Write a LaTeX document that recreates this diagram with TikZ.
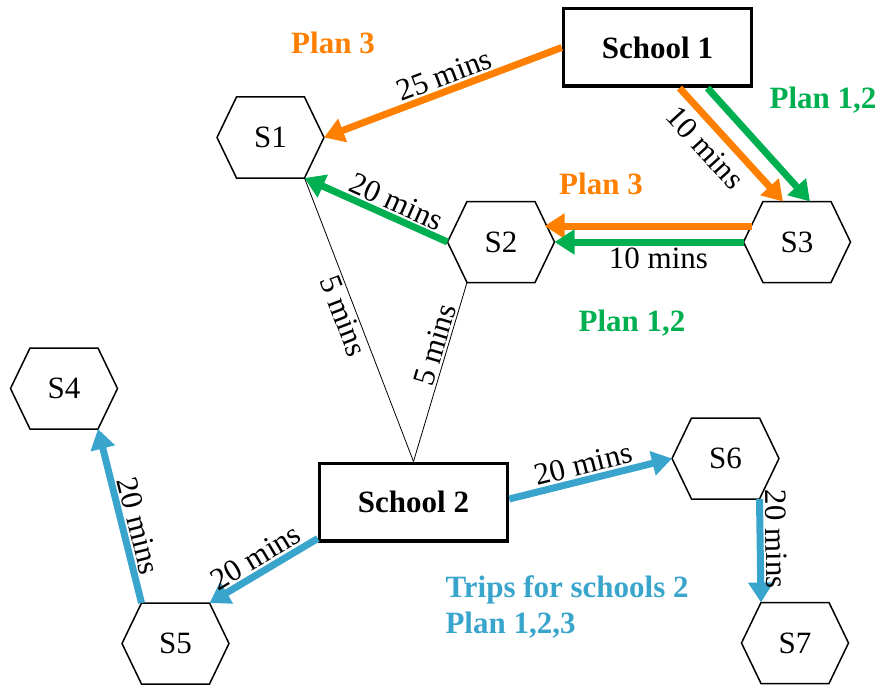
\documentclass[tikz,border=0pt]{standalone}
\usepackage{fontspec}
\setmainfont{Liberation Serif}
\usetikzlibrary{calc,arrows.meta}
\definecolor{planorange}{RGB}{255,128,0}
\definecolor{plangreen}{RGB}{0,176,80}
\definecolor{tripblue}{RGB}{57,165,204}
\def\bigfont{\fontsize{31}{36}\selectfont}
\tikzset{
	school/.style={draw, line width=3.5pt, minimum width=188pt, minimum height=77.5pt, font=\bigfont\bfseries},
	hexbox/.style={minimum width=107pt, minimum height=81pt, inner sep=0pt, outer sep=0pt},
	hexline/.style={line width=1.5pt},
	trip/.style={line width=7pt, -{Triangle[length=20pt,width=24pt]}},
	mins/.style={sloped, text=black, inner sep=2pt},
	plantext/.style={font=\bigfont\bfseries},
}
\newcommand\hexnode[3]{%
	\node[hexbox] (#1) at (#2) {#3};
	\coordinate (#1 nw) at ($(#1.north)+(-34,0)$);
	\coordinate (#1 ne) at ($(#1.north)+(34,0)$);
	\coordinate (#1 sw) at ($(#1.south)+(-34,0)$);
	\coordinate (#1 se) at ($(#1.south)+(34,0)$);
	\draw[hexline] (#1.west) -- (#1 nw) -- (#1 ne) -- (#1.east) -- (#1 se) -- (#1 sw) -- cycle;
}

\begin{document}
\begin{tikzpicture}[x=1pt, y=-1pt, font=\bigfont]
		%%%%% START %%%%%
		\useasboundingbox (0,0) rectangle (879,685);
		
		\node[school] (sch1) at (657.5,47.5) {School 1};
		\node[school] (sch2) at (413.5,502) {School 2};
		
		\hexnode{s1}{270.5,137.5}{S1}
		\hexnode{s2}{501,242}{S2}
		\hexnode{s3}{797,242}{S3}
		\hexnode{s4}{64,388.5}{S4}
		\hexnode{s5}{175.5,643.5}{S5}
		\hexnode{s6}{725.5,458.5}{S6}
		\hexnode{s7}{795,643}{S7}
		
		% plans 1,2 and 3 from school 1
		\draw[trip, planorange] (sch1.west) -- node[mins, above, pos=0.47] {25 mins} (s1.east);
		\draw[trip, planorange] ([xshift=22pt]sch1.south) -- node[mins, below=5pt, pos=0.4] {10 mins} ([xshift=-14pt]s3.north);
		\draw[trip, plangreen] ([xshift=50pt]sch1.south) -- ([xshift=13pt]s3.north);
		\draw[trip, planorange] ([xshift=8pt,yshift=16pt]s3.west) -- ([xshift=-10pt,yshift=16pt]s2.east);
		\draw[trip, plangreen] (s3.west) -- node[mins, below, pos=0.45] {10 mins} (s2.east);
		\draw[trip, plangreen] (s2.west) -- node[mins, above, pos=0.4] {20 mins} (s1 se);
		
		\draw[line width=0.8pt] (s1 se) -- node[mins, below, pos=0.47] {5 mins} (sch2.north);
		\draw[line width=0.8pt] (sch2.north) -- node[mins, above, pos=0.63] {5 mins} (s2 sw);
		
		% trips from school 2
		\draw[trip, tripblue] ([yshift=4pt]sch2.south west) -- node[mins, above] {20 mins} (s5 ne);
		\draw[trip, tripblue] (s5 nw) -- node[mins, above, pos=0.42] {20 mins} (s4 se);
		\draw[trip, tripblue] ([yshift=3pt]sch2.east) -- node[mins, above, pos=0.48] {20 mins} (s6.west);
		\draw[trip, tripblue] (s6 se) -- node[mins, above, pos=0.39] {20 mins} (s7 nw);
		
		\node[plantext, planorange] (plan3a) at (333,43) {Plan 3};
		\node[plantext, plangreen] (plan12a) at (823,100) {Plan 1,2};
		\node[plantext, planorange] (plan3b) at (601,184) {Plan 3};
		\node[plantext, plangreen] (plan12b) at (632,323) {Plan 1,2};
		\node[plantext, tripblue, anchor=west, align=left] (trips) at (442,607) {Trips for schools 2\\Plan 1,2,3};
		
		%%%%% END %%%%%
\end{tikzpicture}
\end{document}
